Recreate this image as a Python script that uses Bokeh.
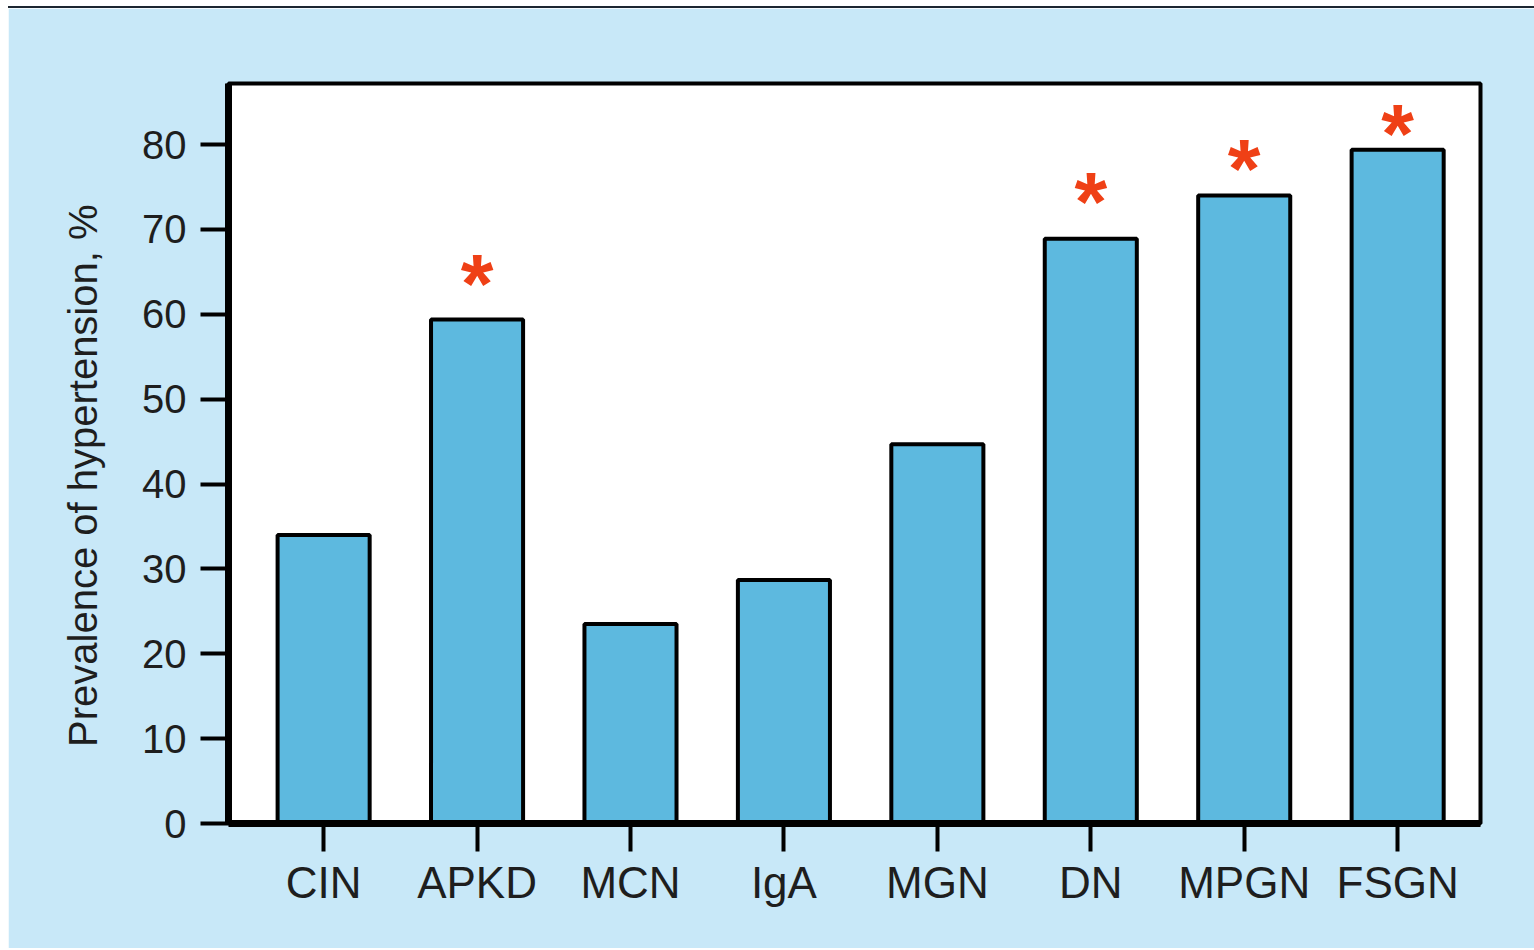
from bokeh.plotting import figure
from bokeh.models import Range1d, FixedTicker
from bokeh.core.properties import value
from bokeh.embed import file_html
from bokeh.resources import INLINE

# Prevalence of hypertension by kidney disease type
categories = ["CIN", "APKD", "MCN", "IgA", "MGN", "DN", "MPGN", "FSGN"]
prevalence = [34.0, 59.4, 23.5, 28.7, 44.7, 68.9, 74.0, 79.4]
# significance asterisks: which bars carry one, and the level it sits at
significant = [False, True, False, False, False, True, True, True]
star_level = [None, 65.1, None, None, None, 74.8, 78.7, 82.8]
y_ticks = [0, 10, 20, 30, 40, 50, 60, 70, 80]

FONT = "Liberation Sans"
PANEL = "#c8e8f8"
BAR = "#5db9df"

xs = list(range(len(categories)))

p = figure(
    width=1526, height=942,
    x_range=Range1d(-0.62, 7.54), y_range=Range1d(0, 87.2),
    output_backend="svg", toolbar_location=None,
    min_border_left=220, min_border_right=54,
    min_border_top=75, min_border_bottom=127,
)
p.styles = {"margin-left": "8px", "margin-top": "6px",
            "border-top": "2px solid #1c2631"}
p.background_fill_color = "white"
p.border_fill_color = PANEL
p.outline_line_color = "black"
p.outline_line_width = 4
p.xgrid.visible = False
p.ygrid.visible = False

p.vbar(x=xs, top=prevalence, width=0.6, bottom=0,
       fill_color=BAR, line_color="black", line_width=4)

# significance markers above the bars (glyph centred on its level)
star_x = [x for x, s in zip(xs, significant) if s]
star_y = [lv for lv, s in zip(star_level, significant) if s]
p.text(x=star_x, y=star_y, text=["*"] * len(star_x),
       text_font=value(FONT), text_font_size="84px",
       text_font_style="bold",
       text_color="#ef4016", text_align="center",
       text_baseline="alphabetic", y_offset=13)

# axes
p.yaxis.ticker = FixedTicker(ticks=y_ticks)
p.xaxis.ticker = FixedTicker(ticks=xs)
p.xaxis.major_label_overrides = {x: c for x, c in zip(xs, categories)}

for ax in (p.xaxis[0], p.yaxis[0]):
    ax.axis_line_width = 7
    ax.axis_line_color = "black"
    ax.major_tick_in = 0
    ax.major_tick_out = 28
    ax.major_tick_line_width = 4
    ax.major_tick_line_color = "black"
    ax.minor_tick_line_color = None
    ax.major_label_text_font = FONT
    ax.major_label_text_color = "#1e1e1e"

p.yaxis.major_label_text_font_size = "40px"
p.yaxis.major_label_standoff = 14
p.xaxis.major_label_text_font_size = "44px"
p.xaxis.major_label_standoff = 6

p.yaxis.axis_label = "Prevalence of hypertension, %\u00a0\u00a0\u00a0\u00a0"
p.yaxis.axis_label_text_font = FONT
p.yaxis.axis_label_text_font_size = "40px"
p.yaxis.axis_label_text_font_style = "normal"
p.yaxis.axis_label_text_color = "#1e1e1e"
p.yaxis.axis_label_standoff = 34

open("out.html", "w").write(file_html(p, INLINE))
